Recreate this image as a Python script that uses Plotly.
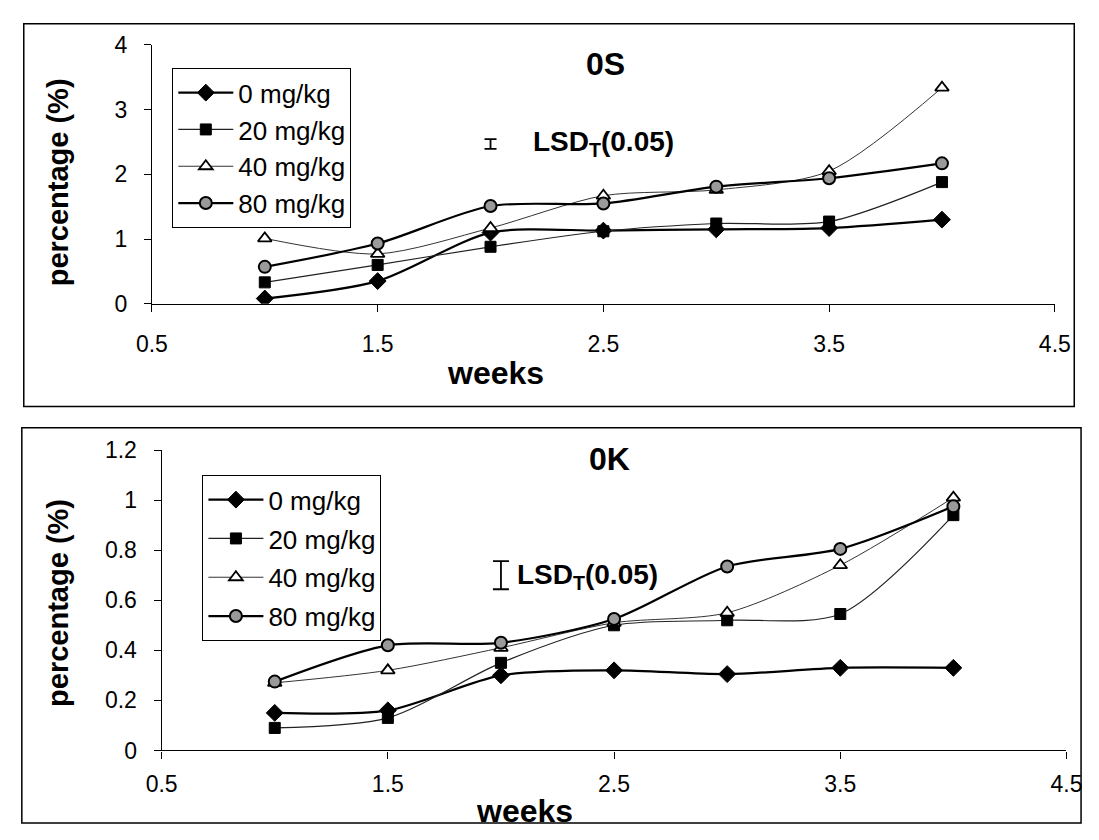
import plotly.graph_objects as go

W, H = 1099, 840

weeks = [1, 1.5, 2, 2.5, 3, 3.5, 4]
series_names = ["0 mg/kg", "20 mg/kg", "40 mg/kg", "80 mg/kg"]

# Panel 0S
os_0 = [0.08, 0.35, 1.10, 1.13, 1.15, 1.17, 1.30]
os_20 = [0.33, 0.60, 0.88, 1.12, 1.24, 1.27, 1.88]
os_40 = [1.01, 0.77, 1.17, 1.67, 1.76, 2.05, 3.34]
os_80 = [0.57, 0.93, 1.51, 1.55, 1.81, 1.94, 2.17]

# Panel 0K
ok_0 = [0.15, 0.16, 0.30, 0.32, 0.305, 0.33, 0.33]
ok_20 = [0.09, 0.13, 0.35, 0.50, 0.52, 0.545, 0.94]
ok_40 = [0.27, 0.32, 0.41, 0.51, 0.55, 0.74, 1.01]
ok_80 = [0.275, 0.42, 0.43, 0.525, 0.735, 0.805, 0.975]

# LSD bars (x, centre, half-length)
lsd_os = (2.0, 2.47, 0.075)
lsd_ok = (2.0, 0.70, 0.056)

FONT = "Liberation Sans, Arial, Helvetica, sans-serif"

styles = [
    dict(symbol="diamond", size=13, color="black", line=dict(color="black", width=1), lw=2.2, lc="black"),
    dict(symbol="square", size=11, color="black", line=dict(color="black", width=1), lw=1.2, lc="#222222"),
    dict(symbol="triangle-up", size=12, color="white", line=dict(color="black", width=1.8), lw=1.0, lc="#333333"),
    dict(symbol="circle", size=12, color="#9a9a9a", line=dict(color="black", width=2), lw=2.2, lc="black"),
]

fig = go.Figure()

def add_panel(data, xa, ya, legend):
    for i, (name, vals) in enumerate(zip(series_names, data)):
        s = styles[i]
        fig.add_trace(go.Scatter(
            x=weeks, y=vals, name=name, mode="lines+markers",
            xaxis=xa, yaxis=ya, legend=legend, legendgroup=legend + str(i),
            line=dict(color=s["lc"], width=s["lw"], shape="spline", smoothing=0.8),
            marker=dict(symbol=s["symbol"], size=s["size"], color=s["color"], line=s["line"]),
        ))

add_panel([os_0, os_20, os_40, os_80], "x", "y", "legend")
add_panel([ok_0, ok_20, ok_40, ok_80], "x2", "y2", "legend2")

for (lx, lc, lh), xa, ya, w in [(lsd_os, "x", "y", 6), (lsd_ok, "x2", "y2", 8)]:
    fig.add_trace(go.Scatter(
        x=[lx], y=[lc], mode="markers", xaxis=xa, yaxis=ya, showlegend=False,
        marker=dict(size=1, color="rgba(0,0,0,0)"),
        error_y=dict(type="constant", value=lh, color="black", thickness=1.8, width=w),
        hoverinfo="skip",
    ))

def px_x(p):
    return p / W

def px_y(p):
    return 1 - p / H

axis_common = dict(
    showline=True, linecolor="black", linewidth=1.2, ticks="outside", ticklen=7,
    tickcolor="black", showgrid=False, zeroline=False,
    tickfont=dict(family=FONT, size=23, color="black"),
)

fig.update_layout(
    width=W, height=H, margin=dict(l=0, r=0, t=0, b=0),
    paper_bgcolor="white", plot_bgcolor="white",
    xaxis=dict(domain=[px_x(140), px_x(1070)], range=[0.5, 4.5], tick0=0.5, dtick=1,
               anchor="y", ticklabelstandoff=13, **axis_common),
    yaxis=dict(domain=[px_y(300), px_y(33)], range=[0, 4], dtick=1, anchor="x",
               ticklabelstandoff=12, **axis_common),
    xaxis2=dict(domain=[px_x(150), px_x(1082)], range=[0.5, 4.5], tick0=0.5, dtick=1,
                anchor="y2", ticklabelstandoff=6, **axis_common),
    yaxis2=dict(domain=[px_y(761), px_y(451)], range=[0, 1.2], dtick=0.2, anchor="x2",
                ticklabelstandoff=12, **axis_common),
    legend=dict(x=px_x(161), y=px_y(57), xanchor="left", yanchor="top",
                bordercolor="black", borderwidth=1, bgcolor="white",
                font=dict(family=FONT, size=26, color="black"), tracegroupgap=0,
                itemwidth=55),
    legend2=dict(x=px_x(192), y=px_y(477), xanchor="left", yanchor="top",
                 bordercolor="black", borderwidth=1, bgcolor="white",
                 font=dict(family=FONT, size=26, color="black"), tracegroupgap=2,
                 itemwidth=55),
    showlegend=True,
)

annots = [
    ("<b>0S</b>", 607, 53, 32, 0),
    ("<b>0K</b>", 611, 460, 32, 0),
    ("<b>LSD<sub>T</sub>(0.05)</b>", 605, 135, 28, 0),
    ("<b>LSD<sub>T</sub>(0.05)</b>", 589, 582, 28, 0),
    ("<b>weeks</b>", 494, 372, 32, 0),
    ("<b>weeks</b>", 524, 823, 32, 0),
    ("<b>percentage (%)</b>", 43, 175, 29, -90),
    ("<b>percentage (%)</b>", 43, 609, 29, -90),
]
for text, x, y, size, ang in annots:
    fig.add_annotation(
        text=text, x=px_x(x), y=px_y(y), xref="paper", yref="paper",
        xanchor="center", yanchor="middle", showarrow=False, textangle=ang,
        font=dict(family=FONT, size=size, color="black"),
    )

# panel frames
for x0, y0, x1, y1 in [(8, 11, 1090, 406), (6, 428, 1097, 836)]:
    fig.add_shape(type="rect", xref="paper", yref="paper",
                  x0=px_x(x0), x1=px_x(x1), y0=px_y(y1), y1=px_y(y0),
                  line=dict(color="black", width=1.5), fillcolor="rgba(0,0,0,0)")

fig.write_html("out.html")
